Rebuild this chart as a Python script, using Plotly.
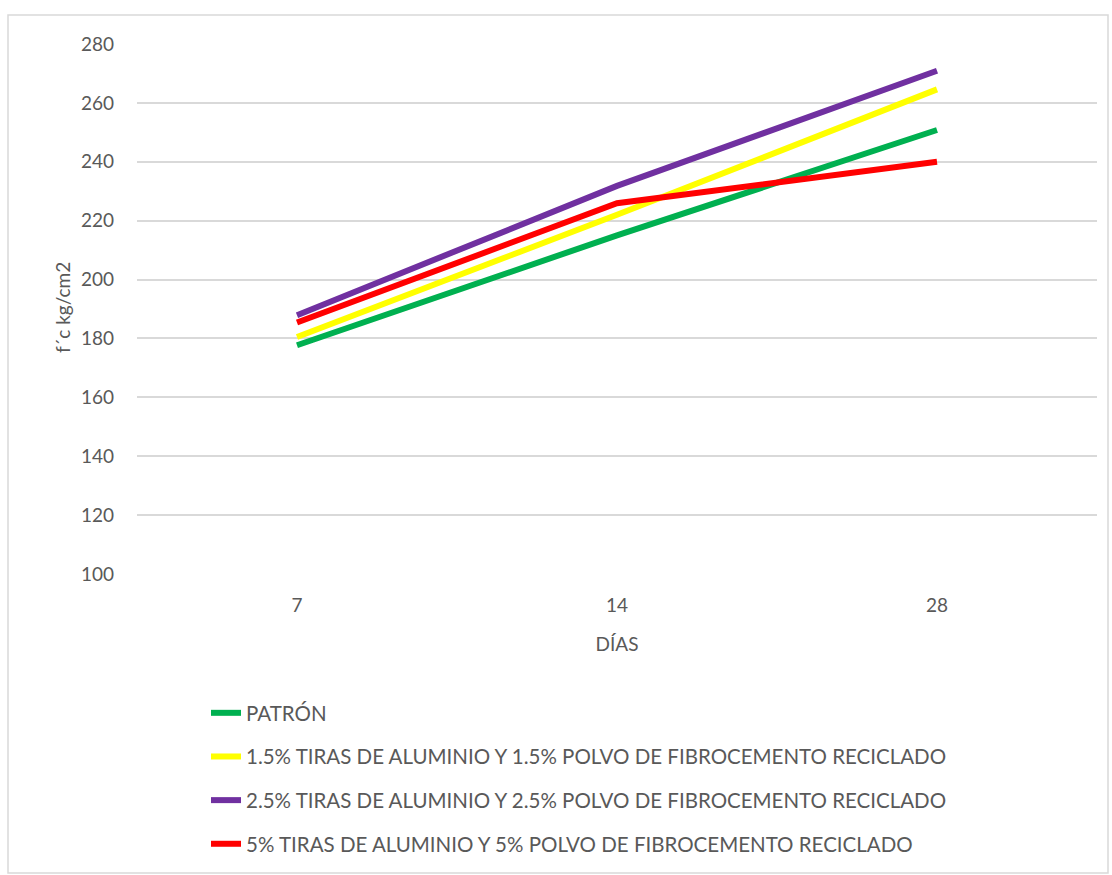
import plotly.graph_objects as go

dias = ["7", "14", "28"]
series_names = [
    "PATRÓN",
    "1.5% TIRAS DE ALUMINIO Y 1.5% POLVO DE FIBROCEMENTO RECICLADO",
    "2.5% TIRAS DE ALUMINIO Y 2.5% POLVO DE FIBROCEMENTO RECICLADO",
    "5% TIRAS DE ALUMINIO Y 5% POLVO DE FIBROCEMENTO RECICLADO",
]
patron = [177.7, 215.0, 250.8]
al_15 = [180.5, 222.0, 264.6]
al_25 = [187.9, 231.8, 270.9]
al_5 = [185.4, 225.9, 240.0]
series_values = [patron, al_15, al_25, al_5]
colors = ["#00b050", "#ffff00", "#7030a0", "#ff0000"]
y_ticks = list(range(100, 281, 20))

FONT = "Lato"
GRAY = "#595959"

fig = go.Figure()
for i, (name, vals, col) in enumerate(zip(series_names, series_values, colors)):
    fig.add_trace(go.Scatter(
        x=dias, y=vals, name=name, mode="lines",
        line=dict(color=col, width=6),
        legendgroup=f"g{i}",
    ))

L, R, T, B = 137, 15, 44, 301
W, H = 1112, 875
pw, ph = W - L - R, H - T - B

fig.update_layout(
    width=W, height=H,
    margin=dict(l=L, r=R, t=T, b=B, autoexpand=False),
    paper_bgcolor="white", plot_bgcolor="white",
    font=dict(family=FONT, color=GRAY, size=19),
    showlegend=True,
    legend=dict(
        xref="container", x=206 / W, xanchor="left",
        yref="container", y=(H - 693) / H, yanchor="top",
        traceorder="grouped", tracegroupgap=14,
        font=dict(family=FONT, size=20.5, color=GRAY),
        bgcolor="rgba(0,0,0,0)",
    ),
    xaxis=dict(
        type="category", range=[-0.5, 2.5], showgrid=False, zeroline=False,
        showline=False, ticks="", ticklabelstandoff=18,
        tickfont=dict(size=19, color=GRAY),
        title=dict(text="DÍAS", font=dict(size=19, color=GRAY), standoff=22),
    ),
    yaxis=dict(
        range=[100, 280], tickvals=y_ticks, showgrid=True,
        gridcolor="#d9d9d9", gridwidth=1.5, zeroline=False, showline=False,
        ticks="", ticklabelstandoff=22, tickfont=dict(size=19, color=GRAY),
    ),
    annotations=[dict(
        text="f´c kg/cm2", xref="paper", yref="paper",
        x=(62 - L) / pw, y=(T + ph - 308) / ph,
        xanchor="center", yanchor="middle", textangle=-90, showarrow=False,
        font=dict(size=19, color=GRAY, family=FONT),
    )],
    shapes=[dict(
        type="rect", xref="paper", yref="paper",
        x0=(8 - L) / pw, x1=(1108 - L) / pw,
        y0=(T + ph - 873) / ph, y1=(T + ph - 15) / ph,
        line=dict(color="#d9d9d9", width=1.5), fillcolor="rgba(0,0,0,0)",
        layer="below",
    )],
)

fig.write_html("out.html")
